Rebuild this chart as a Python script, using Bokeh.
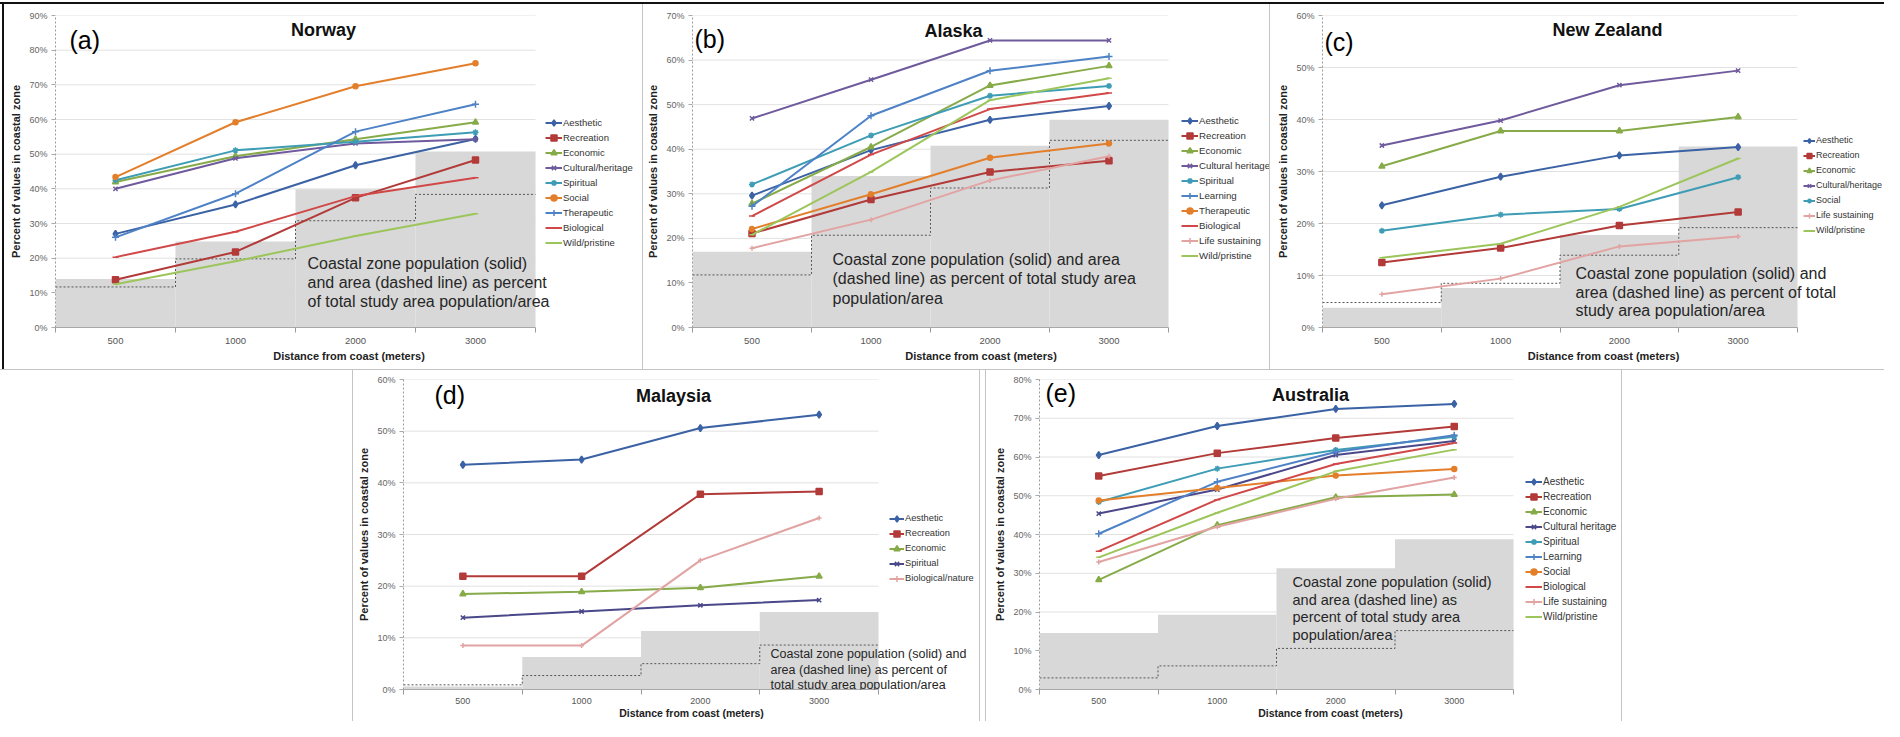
import numpy as np
from bokeh.plotting import figure
from bokeh.models import (Range1d, FixedTicker, SingleIntervalTicker, PrintfTickFormatter,
                          Legend, LegendItem, Label, Spacer)
from bokeh.layouts import row, column
from bokeh.embed import file_html
from bokeh.resources import INLINE

# ---------------- data ----------------
categories = ["500", "1000", "2000", "3000"]

# (a) Norway
nor_names = ["Aesthetic", "Recreation", "Economic", "Cultural/heritage", "Spiritual",
             "Social", "Therapeutic", "Biological", "Wild/pristine"]
nor_aesthetic = [27.0, 35.5, 46.8, 54.4]
nor_recreation = [13.8, 21.8, 37.4, 48.3]
nor_economic = [42.0, 49.4, 54.3, 59.2]
nor_cultural = [40.0, 48.8, 53.1, 54.3]
nor_spiritual = [42.5, 51.1, 53.6, 56.3]
nor_social = [43.4, 59.2, 69.6, 76.2]
nor_therapeutic = [26.0, 38.6, 56.5, 64.4]
nor_biological = [20.3, 27.6, 37.9, 43.2]
nor_wild = [12.5, 19.1, 26.4, 32.8]
nor_population = [14.0, 24.8, 39.9, 50.8]
nor_area = [11.7, 19.8, 30.8, 38.4]

# (b) Alaska
ala_names = ["Aesthetic", "Recreation", "Economic", "Cultural heritage", "Spiritual",
             "Learning", "Therapeutic", "Biological", "Life sustaining", "Wild/pristine"]
ala_aesthetic = [29.6, 39.8, 46.6, 49.7]
ala_recreation = [21.1, 28.7, 34.9, 37.4]
ala_economic = [27.8, 40.5, 54.3, 58.7]
ala_cultural = [46.9, 55.6, 64.4, 64.4]
ala_spiritual = [32.1, 43.1, 52.0, 54.2]
ala_learning = [27.2, 47.5, 57.6, 60.8]
ala_therapeutic = [22.1, 29.9, 38.1, 41.3]
ala_biological = [25.0, 38.8, 49.0, 52.6]
ala_life = [17.8, 24.2, 33.0, 38.4]
ala_wild = [20.8, 34.9, 51.0, 55.9]
ala_population = [17.0, 34.0, 40.8, 46.6]
ala_area = [11.8, 20.7, 31.3, 42.0]

# (c) New Zealand
nz_names = ["Aesthetic", "Recreation", "Economic", "Cultural/heritage", "Social",
            "Life sustaining", "Wild/pristine"]
nz_aesthetic = [23.5, 29.0, 33.1, 34.7]
nz_recreation = [12.5, 15.3, 19.6, 22.2]
nz_economic = [31.0, 37.8, 37.8, 40.5]
nz_cultural = [35.0, 39.8, 46.6, 49.4]
nz_social = [18.6, 21.7, 22.8, 28.9]
nz_life = [6.4, 9.4, 15.6, 17.5]
nz_wild = [13.4, 16.1, 23.2, 32.5]
nz_population = [3.8, 7.6, 17.8, 34.8]
nz_area = [4.8, 8.5, 13.9, 19.2]

# (d) Malaysia
mal_names = ["Aesthetic", "Recreation", "Economic", "Spiritual", "Biological/nature"]
mal_aesthetic = [43.5, 44.5, 50.6, 53.2]
mal_recreation = [21.9, 21.9, 37.8, 38.3]
mal_economic = [18.5, 18.9, 19.7, 21.9]
mal_spiritual = [13.9, 15.1, 16.3, 17.3]
mal_biological = [8.5, 8.5, 25.0, 33.2]
mal_population = [0.6, 6.3, 11.3, 15.0]
mal_area = [0.9, 2.7, 5.0, 8.6]

# (e) Australia
aus_names = ["Aesthetic", "Recreation", "Economic", "Cultural heritage", "Spiritual",
             "Learning", "Social", "Biological", "Life sustaining", "Wild/pristine"]
aus_aesthetic = [60.5, 68.0, 72.4, 73.7]
aus_recreation = [55.1, 61.0, 64.9, 67.9]
aus_economic = [28.3, 42.4, 49.6, 50.3]
aus_cultural = [45.4, 51.6, 60.5, 64.1]
aus_spiritual = [48.4, 57.0, 61.8, 65.2]
aus_learning = [40.2, 53.6, 61.3, 65.6]
aus_social = [48.8, 52.0, 55.2, 56.9]
aus_biological = [35.7, 49.0, 58.2, 63.6]
aus_life = [32.9, 42.0, 49.2, 54.7]
aus_wild = [34.1, 45.6, 56.3, 61.9]
aus_population = [14.6, 19.3, 31.3, 38.8]
aus_area = [3.0, 6.1, 10.6, 15.2]

note_a = "Coastal zone population (solid)\nand area (dashed line) as percent\nof total study area population/area"
note_b = "Coastal zone population (solid) and area\n(dashed line) as percent of total study area\npopulation/area"
note_c = "Coastal zone population (solid) and\narea (dashed line) as percent of total\nstudy area population/area"
note_d = "Coastal zone population  (solid) and\narea (dashed line) as percent of\ntotal study area population/area"
note_e = "Coastal zone population (solid)\nand area (dashed line) as\npercent of total study area\npopulation/area"

# ---------------- styles ----------------
STYLE = {
    "aesthetic": ("#3B62A4", "diamond", 7),
    "recreation": ("#B23A38", "square", 6),
    "economic": ("#86AB48", "triangle", 6),
    "cultural": ("#6E5A9C", "x", 6),
    "spiritual": ("#3E9DB5", "asterisk", 6),
    "orange": ("#E37F2B", "circle", 5),
    "blueplus": ("#4E82C6", "cross", 7),
    "biological": ("#D14848", "dash", 6),
    "life": ("#E2A3A3", "cross", 5),
    "wild": ("#9CC55B", "dash", 5),
    "navy": ("#4A4889", "x", 6),
}

FONT = "Liberation Sans"
N = len(categories)
centers = [i + 0.5 for i in range(N)]
edges = list(range(N + 1))


def make_panel(fig_box, frame_box, ymax, names, series, styles, pop, area,
               title, letter, title_xy, letter_xy, note, note_xy, note_size, note_lh,
               legend_xy, compact=False, legend_font=9.5, glyph_w=17):
    fx, fy, fw, fh = fig_box
    L, R, T, B = frame_box
    xend = N * (fx + fw - L) / (R - L)   # frame extends to the figure's right edge
    p = figure(width=fw, height=fh, x_range=Range1d(0, xend), y_range=Range1d(0, ymax),
               output_backend="svg", toolbar_location=None,
               min_border_left=L - fx, min_border_right=0,
               min_border_top=T - fy, min_border_bottom=fy + fh - B)
    p.outline_line_color = None
    p.background_fill_color = "white"
    p.border_fill_color = "white"

    def dx(px):
        return (px - L) / (R - L) * N

    def dy(py):
        return (B - py) / (B - T) * ymax

    # horizontal gridlines only over the category bands
    gticks = list(range(10, ymax + 1, 10))
    p.segment(x0=[0] * len(gticks), x1=[N] * len(gticks), y0=gticks, y1=gticks,
              line_color="#e2e2e2", line_width=1, level="underlay")

    # population bars & area step
    p.vbar(x=centers, top=pop, width=1.0, fill_color="#d8d8d8", line_color=None)
    p.step(x=edges, y=list(area) + [area[-1]], mode="after", line_color="#555555",
           line_width=1, line_dash="2 2")

    items = []
    for name, vals, sk in zip(names, series, styles):
        color, marker, size = STYLE[sk]
        lr = p.line(centers, vals, line_color=color, line_width=2)
        sr = p.scatter(centers, vals, marker=marker, size=size, fill_color=color,
                       line_color=color, line_width=1.5)
        items.append(LegendItem(label=name, renderers=[lr, sr]))

    lx, ly = legend_xy
    n_items = len(items)
    legend = Legend(items=items, location=(lx - L, B - (ly + 7.5 * n_items)),
                    background_fill_alpha=0, border_line_alpha=0, padding=0, margin=0,
                    spacing=0, glyph_height=15, glyph_width=glyph_w, label_height=15,
                    label_standoff=1, label_text_font_size=f"{legend_font}px",
                    label_text_font=FONT, label_text_color="#333333")
    p.add_layout(legend)

    # axes
    xa = p.xaxis[0]
    xa.bounds = (0, N)
    xa.ticker = FixedTicker(ticks=centers, minor_ticks=edges)
    xa.major_label_overrides = {c: cat for c, cat in zip(centers, categories)}
    xa.major_tick_out = 0
    xa.major_tick_in = 0
    xa.minor_tick_out = 5
    xa.minor_tick_in = 0
    xa.minor_tick_line_color = "#9a9a9a"
    xa.axis_line_color = "#a8a8a8"
    xa.major_label_text_font = FONT
    xa.major_label_text_font_size = "9px" if compact else "9.5px"
    xa.major_label_text_color = "#555555"
    xa.major_label_standoff = 3 if compact else 5
    xa.axis_label = "Distance from coast (meters)"
    xa.axis_label_text_font = FONT
    xa.axis_label_text_font_style = "bold"
    xa.axis_label_text_font_size = "10.5px" if compact else "11px"
    xa.axis_label_text_color = "#222222"
    xa.axis_label_standoff = 0 if compact else 3

    ya = p.yaxis[0]
    ya.ticker = SingleIntervalTicker(interval=10, num_minor_ticks=0)
    ya.formatter = PrintfTickFormatter(format="%d%%")
    ya.axis_line_color = "#9a9a9a"
    ya.axis_line_dash = "2 2"
    ya.major_tick_out = 4
    ya.major_tick_in = 0
    ya.major_tick_line_color = "#aaaaaa"
    ya.minor_tick_out = 0
    ya.major_label_text_font = FONT
    ya.major_label_text_font_size = "9px"
    ya.major_label_text_color = "#666666"
    ya.major_label_standoff = 4
    ya.axis_label = "Percent of values in coastal zone"
    ya.axis_label_text_font = FONT
    ya.axis_label_text_font_style = "bold"
    ya.axis_label_text_font_size = "11px"
    ya.axis_label_text_color = "#222222"
    ya.axis_label_standoff = 4

    p.xgrid.visible = False
    p.ygrid.visible = False

    # texts
    p.add_layout(Label(x=dx(title_xy[0]), y=dy(title_xy[1]), text=title, text_font=FONT,
                       text_font_size="18px", text_font_style="bold", text_color="#111111",
                       text_align="center", text_baseline="middle"))
    p.add_layout(Label(x=dx(letter_xy[0]), y=dy(letter_xy[1]), text=letter, text_font=FONT,
                       text_font_size="25px", text_color="#000000",
                       text_align="left", text_baseline="middle"))
    p.add_layout(Label(x=dx(note_xy[0]), y=dy(note_xy[1]), text=note, text_font=FONT,
                       text_font_size=f"{note_size}px", text_color="#262626",
                       text_align="left", text_baseline="top", text_line_height=note_lh))
    return p


fa = make_panel((12, 12, 638, 365), (63, 543, 18, 337), 90, nor_names,
                [nor_aesthetic, nor_recreation, nor_economic, nor_cultural, nor_spiritual,
                 nor_social, nor_therapeutic, nor_biological, nor_wild],
                ["aesthetic", "recreation", "economic", "cultural", "spiritual",
                 "orange", "blueplus", "biological", "wild"],
                nor_population, nor_area, "Norway", "(a)", (331, 33), (77, 43),
                note_a, (315, 263), 16, 1.125, (553, 192.5))

fb = make_panel((651, 12, 626, 365), (700, 1176, 22, 335), 70, ala_names,
                [ala_aesthetic, ala_recreation, ala_economic, ala_cultural, ala_spiritual,
                 ala_learning, ala_therapeutic, ala_biological, ala_life, ala_wild],
                ["aesthetic", "recreation", "economic", "cultural", "spiritual",
                 "blueplus", "orange", "biological", "life", "wild"],
                ala_population, ala_area, "Alaska", "(b)", (961, 38), (702, 46),
                note_b, (840, 258), 16, 1.16, (1189, 195.5), legend_font=9.7)

fc = make_panel((1278, 12, 614, 365), (1330, 1805, 23, 337), 60, nz_names,
                [nz_aesthetic, nz_recreation, nz_economic, nz_cultural, nz_social,
                 nz_life, nz_wild],
                ["aesthetic", "recreation", "economic", "cultural", "spiritual",
                 "life", "wild"],
                nz_population, nz_area, "New Zealand", "(c)", (1615, 38), (1332, 50),
                note_c, (1583, 274), 16, 1.1, (1811, 195), legend_font=9, glyph_w=12)

fd = make_panel((361, 378, 626, 351), (411, 886, 386, 701), 60, mal_names,
                [mal_aesthetic, mal_recreation, mal_economic, mal_spiritual, mal_biological],
                ["aesthetic", "recreation", "economic", "navy", "life"],
                mal_population, mal_area, "Malaysia", "(d)", (681, 403), (442, 402),
                note_d, (778, 658), 12.5, 1.1, (897, 560), compact=True, legend_font=9.3,
                glyph_w=15)

fe = make_panel((994, 378, 635, 351), (1047, 1521, 387, 701), 80, aus_names,
                [aus_aesthetic, aus_recreation, aus_economic, aus_cultural, aus_spiritual,
                 aus_learning, aus_social, aus_biological, aus_life, aus_wild],
                ["aesthetic", "recreation", "economic", "navy", "spiritual",
                 "blueplus", "orange", "biological", "life", "wild"],
                aus_population, aus_area, "Australia", "(e)", (1318, 403), (1053, 401),
                note_e, (1300, 584), 14.5, 1.1, (1533, 560.5), compact=True,
                legend_font=10)


def bar(w, h, color):
    return Spacer(width=w, height=h, margin=0, styles={"background-color": color})


GRAY = "#c4c4c4"
top = row(Spacer(width=2, height=365, margin=0), bar(2, 365, "#111111"), fa,
          bar(1, 365, GRAY), fb, bar(1, 365, GRAY), fc, spacing=0)
bottom = row(Spacer(width=352, height=351, margin=0), bar(1, 351, GRAY), fd,
             bar(1, 351, GRAY), Spacer(width=5, height=351, margin=0), bar(1, 351, GRAY),
             fe, bar(1, 351, GRAY), spacing=0)
layout = column(Spacer(width=1884, height=2, margin=0), bar(1884, 2, "#111111"), top,
                bar(1884, 1, GRAY), bottom, spacing=0)

open("out.html", "w").write(file_html(layout, INLINE))
